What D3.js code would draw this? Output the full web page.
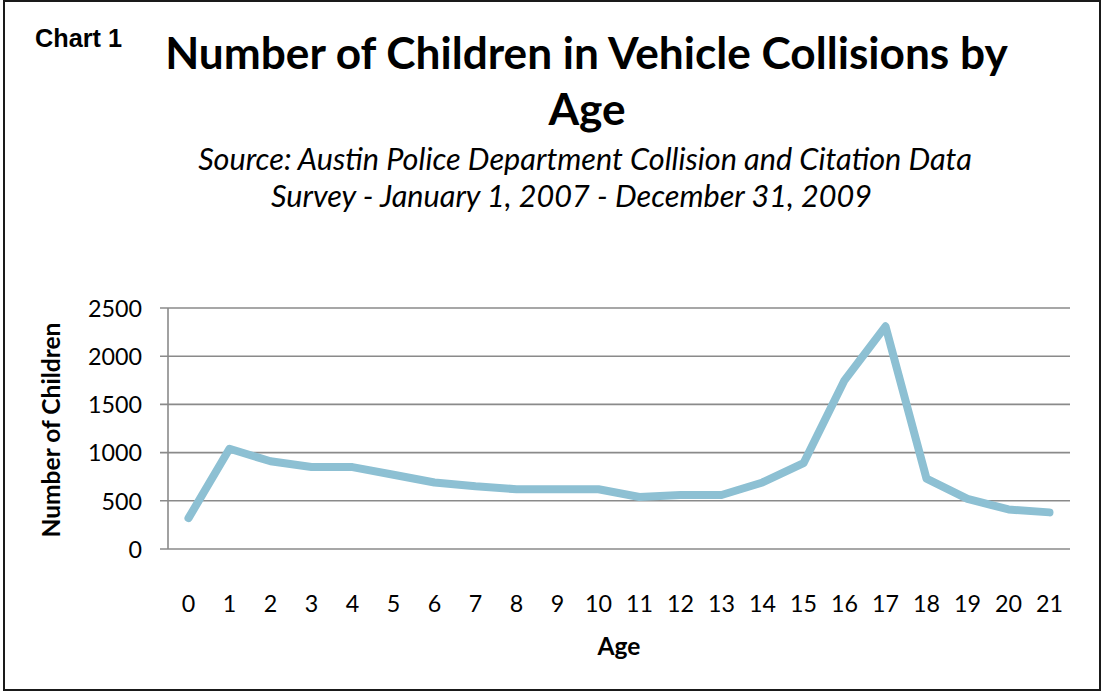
<!DOCTYPE html>
<html>
<head>
<meta charset="utf-8">
<script src="https://cdn.jsdelivr.net/npm/d3@7"></script>
<style>
  html, body { margin: 0; padding: 0; background: #fff; }
  svg { display: block; }
</style>
</head>
<body>
<svg id="chart" width="1104" height="692"></svg>
<script>
// ---- Data ----
const ages = ["0","1","2","3","4","5","6","7","8","9","10","11","12","13","14","15","16","17","18","19","20","21"];
const children = [320, 1040, 910, 850, 850, 770, 690, 650, 620, 620, 620, 540, 560, 560, 690, 890, 1750, 2310, 730, 520, 410, 380];
const yTicks = [0, 500, 1000, 1500, 2000, 2500];
const titleLines = ["Number of Children in Vehicle Collisions by", "Age"];
const subtitleLines = ["Source: Austin Police Department Collision and Citation Data", "Survey - January 1, 2007 - December 31, 2009"];
const chartLabel = "Chart 1";
const xTitle = "Age";
const yTitle = "Number of Children";

// ---- Layout ----
const W = 1104, H = 692;
const plot = { left: 168, right: 1070, top: 308, bottom: 549 };
const calibri = "Lato, 'Open Sans', sans-serif";

const svg = d3.select("#chart");

// frame
svg.append("rect").attr("x", 4).attr("y", 1).attr("width", 1096).attr("height", 689)
  .attr("fill", "#fff").attr("stroke", "#1a1a1a").attr("stroke-width", 2);

// helper to fit text to width
function fitSize(text, family, weight, style, target) {
  const t = svg.append("text").attr("font-family", family).attr("font-weight", weight)
    .attr("font-style", style).attr("font-size", 100).text(text);
  const len = t.node().getComputedTextLength();
  t.remove();
  return 100 * target / len;
}

// Chart label
const chartSize = fitSize(chartLabel, "'Liberation Sans', Arial, sans-serif", "bold", "normal", 87);
svg.append("text").attr("x", 35).attr("y", 47)
  .attr("font-family", "'Liberation Sans', Arial, sans-serif").attr("font-weight", "bold")
  .attr("font-size", chartSize).attr("fill", "#000").text(chartLabel);

// Title
const titleSize = fitSize(titleLines[0], calibri, "bold", "normal", 843);
const titlePos = [{ x: 586.5, y: 69 }, { x: 587, y: 125 }];
titleLines.forEach((l, i) => {
  svg.append("text").attr("x", titlePos[i].x).attr("y", titlePos[i].y)
    .attr("text-anchor", "middle").attr("font-family", calibri).attr("font-weight", "bold")
    .attr("font-size", titleSize).attr("fill", "#000").text(l);
});

// Subtitle
const subSize = fitSize(subtitleLines[0], calibri, "normal", "italic", 774);
const subPos = [{ x: 585, y: 170 }, { x: 571.5, y: 207 }];
subtitleLines.forEach((l, i) => {
  svg.append("text").attr("x", subPos[i].x).attr("y", subPos[i].y)
    .attr("text-anchor", "middle").attr("font-family", calibri).attr("font-style", "italic")
    .attr("font-size", subSize).attr("fill", "#000").text(l);
});

// Scales
const x = d3.scaleBand().domain(ages).range([plot.left, plot.right]);
const y = d3.scaleLinear().domain([0, 2500]).range([plot.bottom, plot.top]);

const tickSize = fitSize("2500", calibri, "normal", "normal", 54);

// Gridlines
svg.append("g").selectAll("line").data(yTicks).join("line")
  .attr("x1", plot.left - 8).attr("x2", plot.right)
  .attr("y1", d => y(d)).attr("y2", d => y(d))
  .attr("stroke", "#8a8a8a").attr("stroke-width", 1.6);

// Y axis line
svg.append("line").attr("x1", plot.left).attr("x2", plot.left)
  .attr("y1", plot.top).attr("y2", plot.bottom)
  .attr("stroke", "#8a8a8a").attr("stroke-width", 1.6);

// Y axis labels
const yAxis = d3.axisLeft(y).tickValues(yTicks).tickFormat(d3.format("d")).tickSize(0).tickPadding(0);
const gy = svg.append("g").attr("transform", `translate(142,0)`).call(yAxis);
gy.select(".domain").remove();
gy.selectAll("text").attr("font-family", calibri).attr("font-size", tickSize)
  .attr("fill", "#000").attr("dy", "0.36em");

// X axis labels
const xAxis = d3.axisBottom(x).tickSize(0).tickPadding(0);
const gx = svg.append("g").attr("transform", `translate(0,${plot.bottom})`).call(xAxis);
gx.select(".domain").remove();
gx.selectAll("text").attr("font-family", calibri).attr("font-size", tickSize)
  .attr("fill", "#000").attr("dy", null).attr("y", 63);

// Axis titles
const axTitleSize = fitSize(yTitle, calibri, "bold", "normal", 215);
svg.append("text").attr("x", 619).attr("y", 655).attr("text-anchor", "middle")
  .attr("font-family", calibri).attr("font-weight", "bold").attr("font-size", axTitleSize)
  .attr("fill", "#000").text(xTitle);
svg.append("text").attr("transform", "translate(60,430) rotate(-90)").attr("text-anchor", "middle")
  .attr("font-family", calibri).attr("font-weight", "bold").attr("font-size", axTitleSize)
  .attr("fill", "#000").text(yTitle);

// Line
const line = d3.line()
  .x((d, i) => x(ages[i]) + x.bandwidth() / 2)
  .y(d => y(d));
svg.append("path").datum(children).attr("d", line)
  .attr("fill", "none").attr("stroke", "#8DC0D3").attr("stroke-width", 8)
  .attr("stroke-linecap", "round").attr("stroke-linejoin", "round");
</script>
</body>
</html>
